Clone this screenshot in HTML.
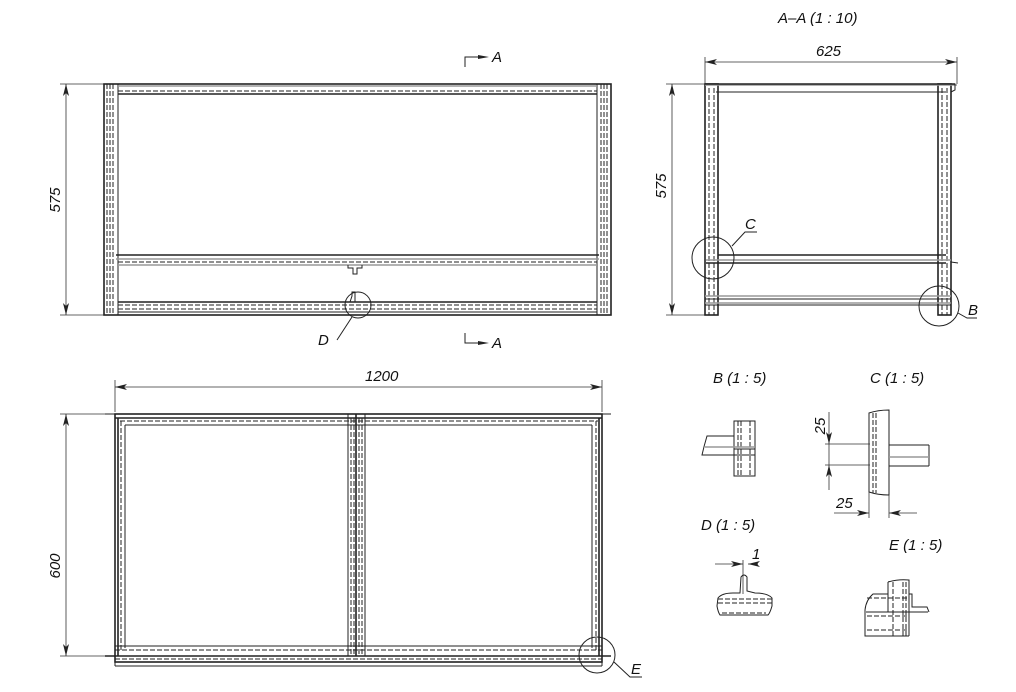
<!DOCTYPE html>
<html><head><meta charset="utf-8"><style>
html,body{margin:0;padding:0;background:#fff}
svg{display:block}
text{font-family:"Liberation Sans",sans-serif;font-style:italic;font-size:15px;fill:#111}
.l{stroke:#222;fill:none;stroke-width:1}
.t{stroke:#222;fill:none;stroke-width:1.6}
.g{stroke:#999;fill:none;stroke-width:1.4}
.d{stroke:#222;fill:none;stroke-width:1;stroke-dasharray:5 2}
.thin{stroke:#333;fill:none;stroke-width:0.8}
</style></head><body>
<svg width="1016" height="692" viewBox="0 0 1016 692" xmlns="http://www.w3.org/2000/svg">
<defs>
<marker id="ar" viewBox="0 0 12 6" refX="12" refY="3" markerWidth="12" markerHeight="6" orient="auto-start-reverse" markerUnits="userSpaceOnUse"><path d="M0,0 L12,3 L0,6 L3,3z" fill="#222"/></marker>
</defs>

<!-- ===== FRONT VIEW ===== -->
<!-- dim 575 -->
<line class="thin" x1="60" y1="84" x2="104" y2="84"/>
<line class="thin" x1="60" y1="315" x2="104" y2="315"/>
<line class="thin" x1="66" y1="84" x2="66" y2="315" marker-start="url(#ar)" marker-end="url(#ar)"/>
<text transform="translate(60,200) rotate(-90)" text-anchor="middle">575</text>
<!-- posts -->
<rect class="t" x="104" y="84" width="507" height="231"/>
<line class="l" x1="118" y1="84" x2="118" y2="315"/>
<line class="l" x1="597" y1="84" x2="597" y2="315"/>
<line class="d" x1="107" y1="84" x2="107" y2="315"/>
<line class="d" x1="110" y1="84" x2="110" y2="315"/>
<line class="d" x1="113" y1="84" x2="113" y2="315"/>
<line class="d" x1="601" y1="84" x2="601" y2="315"/>
<line class="d" x1="604" y1="84" x2="604" y2="315"/>
<line class="d" x1="607" y1="84" x2="607" y2="315"/>
<!-- top rail -->
<line class="g" x1="118" y1="86" x2="597" y2="86"/>
<line class="d" x1="118" y1="91" x2="597" y2="91"/>
<line class="t" x1="118" y1="94" x2="597" y2="94"/>
<!-- shelf -->
<line class="t" x1="116" y1="255" x2="599" y2="255"/>
<line class="g" x1="116" y1="259" x2="599" y2="259"/>
<line class="d" x1="118" y1="262" x2="597" y2="262"/>
<line class="g" x1="118" y1="265" x2="597" y2="265"/>
<path class="l" d="M348,265 L348,268 L353,268 L353,274 L357,274 L357,268 L362,268 L362,265"/>
<path class="l" d="M118,285 L118,302 L125,302 M597,285 L597,302 L590,302"/>
<!-- bottom rail -->
<line class="t" x1="118" y1="302" x2="597" y2="302"/>
<line class="d" x1="118" y1="305" x2="597" y2="305"/>
<line class="d" x1="118" y1="309" x2="597" y2="309"/>
<line class="l" x1="118" y1="312" x2="597" y2="312"/>
<path class="l" d="M350,302 L352,296 L352,292 L355,292 L355,302"/>
<circle class="l" cx="358" cy="305" r="13"/>
<line class="l" x1="352" y1="317" x2="337" y2="340"/>
<text x="318" y="345">D</text>
<!-- section markers -->
<path class="l" d="M465,67 L465,57 L480,57"/>
<path d="M478,55 L489,57 L478,59z" fill="#222"/>
<text x="492" y="62">A</text>
<path class="l" d="M465,333 L465,343 L480,343"/>
<path d="M478,341 L489,343 L478,345z" fill="#222"/>
<text x="492" y="348">A</text>

<!-- ===== SECTION A-A ===== -->
<text x="778" y="23">A–A (1 : 10)</text>
<line class="thin" x1="705" y1="57" x2="705" y2="84"/>
<line class="thin" x1="957" y1="57" x2="957" y2="84"/>
<line class="thin" x1="705" y1="62" x2="957" y2="62" marker-start="url(#ar)" marker-end="url(#ar)"/>
<text x="816" y="56">625</text>
<line class="thin" x1="666" y1="84" x2="705" y2="84"/>
<line class="thin" x1="666" y1="315" x2="705" y2="315"/>
<line class="thin" x1="672" y1="84" x2="672" y2="315" marker-start="url(#ar)" marker-end="url(#ar)"/>
<text transform="translate(666,186) rotate(-90)" text-anchor="middle">575</text>
<rect class="t" x="705" y="84" width="13" height="231"/>
<rect class="t" x="938" y="84" width="13" height="231"/>
<line class="d" x1="709" y1="88" x2="709" y2="315"/>
<line class="d" x1="714" y1="88" x2="714" y2="315"/>
<line class="d" x1="942" y1="88" x2="942" y2="315"/>
<line class="d" x1="947" y1="88" x2="947" y2="315"/>
<line class="g" x1="705" y1="85" x2="957" y2="85"/>
<line class="t" x1="705" y1="84" x2="955" y2="84"/>
<path class="l" d="M951,84 L955,84 L955,90 L951,92"/>
<line class="l" x1="716" y1="92" x2="946" y2="92"/>
<line class="t" x1="718" y1="255" x2="946" y2="255"/>
<line class="g" x1="706" y1="260" x2="951" y2="260"/>
<line class="t" x1="706" y1="263" x2="946" y2="263"/>
<path class="l" d="M951,262 L958,263"/>
<line class="g" x1="705" y1="296" x2="951" y2="296"/>
<line class="l" x1="705" y1="299" x2="951" y2="299"/>
<line class="g" x1="705" y1="303" x2="951" y2="303"/>
<line class="l" x1="705" y1="305" x2="951" y2="305"/>
<circle class="l" cx="713" cy="258" r="21"/>
<path class="l" d="M732,246 L745,232 L757,232"/>
<text x="745" y="229">C</text>
<circle class="l" cx="939" cy="306" r="20"/>
<path class="l" d="M958,313 L967,318 L977,318"/>
<text x="968" y="315">B</text>

<!-- ===== TOP VIEW ===== -->
<line class="thin" x1="115" y1="380" x2="115" y2="412"/>
<line class="thin" x1="602" y1="380" x2="602" y2="412"/>
<line class="thin" x1="115" y1="387" x2="602" y2="387" marker-start="url(#ar)" marker-end="url(#ar)"/>
<text x="365" y="381">1200</text>
<line class="thin" x1="60" y1="414" x2="115" y2="414"/>
<line class="thin" x1="60" y1="656" x2="115" y2="656"/>
<line class="thin" x1="66" y1="414" x2="66" y2="656" marker-start="url(#ar)" marker-end="url(#ar)"/>
<text transform="translate(60,566) rotate(-90)" text-anchor="middle">600</text>
<!-- frame -->
<path class="l" d="M105,414 L611,414"/>
<rect class="t" x="115" y="414" width="487" height="248"/>
<line class="t" x1="115" y1="418" x2="602" y2="418"/>
<line class="d" x1="120" y1="421" x2="598" y2="421"/>
<line class="l" x1="125" y1="425" x2="592" y2="425"/>
<line class="t" x1="118" y1="418" x2="118" y2="656"/>
<line class="d" x1="121" y1="421" x2="121" y2="650"/>
<line class="l" x1="125" y1="425" x2="125" y2="648"/>
<line class="t" x1="599" y1="418" x2="599" y2="656"/>
<line class="d" x1="596" y1="421" x2="596" y2="650"/>
<line class="l" x1="592" y1="425" x2="592" y2="648"/>
<!-- middle post -->
<line class="l" x1="348" y1="414" x2="348" y2="656"/>
<line class="d" x1="351" y1="418" x2="351" y2="656"/>
<line class="d" x1="354" y1="418" x2="354" y2="656"/>
<line class="t" x1="356" y1="414" x2="356" y2="656"/>
<line class="d" x1="359" y1="418" x2="359" y2="656"/>
<line class="d" x1="362" y1="418" x2="362" y2="656"/>
<line class="l" x1="365" y1="414" x2="365" y2="656"/>
<!-- bottom band -->
<line class="l" x1="115" y1="646" x2="602" y2="646"/>
<line class="d" x1="115" y1="650" x2="602" y2="650"/>
<line class="t" x1="105" y1="656" x2="611" y2="656"/>
<line class="d" x1="115" y1="659" x2="602" y2="659"/>
<line class="d" x1="115" y1="662" x2="602" y2="662"/>
<line class="l" x1="115" y1="666" x2="602" y2="666"/>
<line class="l" x1="115" y1="656" x2="115" y2="666"/>
<line class="l" x1="602" y1="656" x2="602" y2="666"/>
<circle class="l" cx="597" cy="655" r="18"/>
<path class="l" d="M614,662 L630,677 L642,677"/>
<text x="631" y="674">E</text>

<!-- ===== DETAIL B ===== -->
<text x="713" y="383">B (1 : 5)</text>
<rect class="l" x="734" y="421" width="21" height="55"/>
<line class="d" x1="738" y1="421" x2="738" y2="476"/>
<line class="d" x1="741" y1="421" x2="741" y2="476"/>
<line class="d" x1="750" y1="421" x2="750" y2="476"/>
<path class="l" d="M734,436 L707,436 Q704,446 702,455 L734,455"/>
<line class="g" x1="705" y1="447" x2="755" y2="447"/>
<line class="l" x1="734" y1="449" x2="755" y2="449"/>
<line class="l" x1="734" y1="455" x2="755" y2="455"/>

<!-- ===== DETAIL C ===== -->
<text x="870" y="383">C (1 : 5)</text>
<path class="l" d="M869,413 Q878,410 889,410 L889,495 Q878,495 869,492 Z"/>
<line class="d" x1="873" y1="413" x2="873" y2="493"/>
<line class="d" x1="876" y1="413" x2="876" y2="493"/>
<line class="l" x1="889" y1="445" x2="929" y2="445"/>
<line class="l" x1="889" y1="466" x2="929" y2="466"/>
<line class="l" x1="929" y1="445" x2="929" y2="466"/>
<line class="g" x1="889" y1="457" x2="929" y2="457"/>
<line class="thin" x1="825" y1="444" x2="870" y2="444"/>
<line class="thin" x1="825" y1="465" x2="870" y2="465"/>
<line class="thin" x1="829" y1="412" x2="829" y2="444" marker-end="url(#ar)"/>
<line class="thin" x1="829" y1="490" x2="829" y2="465" marker-end="url(#ar)"/>
<line class="thin" x1="829" y1="444" x2="829" y2="465"/>
<text transform="translate(825,426) rotate(-90)" text-anchor="middle">25</text>
<line class="thin" x1="869" y1="492" x2="869" y2="518"/>
<line class="thin" x1="889" y1="495" x2="889" y2="518"/>
<line class="thin" x1="834" y1="513" x2="869" y2="513" marker-end="url(#ar)"/>
<line class="thin" x1="917" y1="513" x2="889" y2="513" marker-end="url(#ar)"/>
<text x="836" y="508">25</text>

<!-- ===== DETAIL D ===== -->
<text x="701" y="530">D (1 : 5)</text>
<line class="thin" x1="715" y1="564" x2="743" y2="564" marker-end="url(#ar)"/>
<line class="thin" x1="758" y1="564" x2="748" y2="564" marker-end="url(#ar)"/>
<line class="thin" x1="743" y1="560" x2="743" y2="594"/>
<text x="752" y="559">1</text>
<path class="l" d="M718,598 Q722,593 733,593 L740,593 L741,577 Q744,573 747,577 L747,591 L755,593 Q768,593 772,598 L772,606 Q770,613 768,615 L720,615 Q718,612 717,606 Z"/>
<line class="d" x1="718" y1="599" x2="772" y2="599"/>
<line class="d" x1="718" y1="603" x2="772" y2="603"/>
<line class="d" x1="722" y1="613" x2="766" y2="613"/>

<!-- ===== DETAIL E ===== -->
<text x="889" y="550">E (1 : 5)</text>
<path class="l" d="M888,582 Q898,579 909,580 L909,636"/>
<line class="l" x1="888" y1="582" x2="888" y2="612"/>
<line class="d" x1="893" y1="582" x2="893" y2="636"/>
<line class="d" x1="903" y1="582" x2="903" y2="636"/>
<line class="d" x1="906" y1="582" x2="906" y2="636"/>
<path class="l" d="M888,594 L873,594 Q866,600 865,610 L865,636 L909,636"/>
<line class="d" x1="867" y1="598" x2="909" y2="598"/>
<line class="l" x1="866" y1="612" x2="928" y2="612"/>
<path class="l" d="M909,594 L912,594 L912,607 L927,607 L929,612"/>
<line class="d" x1="867" y1="616" x2="909" y2="616"/>
<line class="d" x1="867" y1="630" x2="909" y2="630"/>
</svg>
</body></html>
